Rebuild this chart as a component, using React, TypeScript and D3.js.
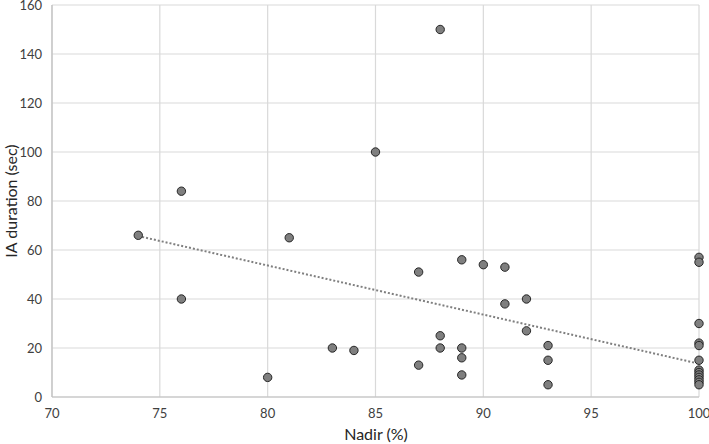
import React from "react";
import * as d3 from "d3";

const nadir = [74, 76, 76, 80, 81, 83, 84, 85, 87, 87, 88, 88, 88, 89, 89, 89, 89, 90, 91, 91, 92, 92, 93, 93, 93,
  100, 100, 100, 100, 100, 100, 100, 100, 100, 100, 100, 100, 100];
const duration = [66, 84, 40, 8, 65, 20, 19, 100, 51, 13, 150, 25, 20, 56, 20, 16, 9, 54, 53, 38, 40, 27, 21, 15, 5,
  57, 55, 30, 22, 21, 15, 11, 10, 9, 8, 7, 6, 5];
const trendX = [74, 100];
const trendY = [65.7, 13.6];
const xTicks = [70, 75, 80, 85, 90, 95, 100];
const yTicks = [0, 20, 40, 60, 80, 100, 120, 140, 160];

const W = 709, H = 444;
const left = 52, right = 699, top = 5, bottom = 397;
const FONT = "Lato, 'Open Sans', sans-serif";

export default function App() {
  const x = d3.scaleLinear().domain([70, 100]).range([left, right]);
  const y = d3.scaleLinear().domain([0, 160]).range([bottom, top]);
  const line = d3.line<number>().x((d) => x(trendX[d])).y((d) => y(trendY[d]));
  return (
    <svg width={W} height={H} style={{ position: "absolute", left: 0, top: 0 }} fontFamily={FONT}>
      <rect width={W} height={H} fill="#fff" />
      {yTicks.map((t) => (
        <line key={"gy" + t} x1={left} x2={right} y1={y(t)} y2={y(t)} stroke="#d9d9d9" strokeWidth={1.2} />
      ))}
      {xTicks.map((t) => (
        <line key={"gx" + t} x1={x(t)} x2={x(t)} y1={top} y2={bottom} stroke="#d9d9d9" strokeWidth={1.2} />
      ))}
      <line x1={left} x2={right} y1={bottom} y2={bottom} stroke="#bfbfbf" strokeWidth={1.2} />
      <line x1={left} x2={left} y1={top} y2={bottom} stroke="#bfbfbf" strokeWidth={1.2} />
      {yTicks.map((t) => (
        <text key={"ty" + t} x={42} y={y(t)} dy="0.35em" textAnchor="end" fontSize={13} fill="#404040">{t}</text>
      ))}
      {xTicks.map((t) => (
        <text key={"tx" + t} x={x(t)} y={413} dy="0.35em" textAnchor="middle" fontSize={13} fill="#404040">{t}</text>
      ))}
      <path d={line([0, 1]) || ""} fill="none" stroke="#7f7f7f" strokeWidth={2} strokeDasharray="2,2" />
      {nadir.map((n, i) => (
        <circle key={"p" + i} cx={x(n)} cy={y(duration[i])} r={4.2} fill="#7f7f7f" stroke="#262626" strokeWidth={1} />
      ))}
      <text x={376} y={434} dy="0.35em" textAnchor="middle" fontSize={16} fill="#262626">Nadir (%)</text>
      <text transform={`translate(17,${(top + bottom) / 2}) rotate(-90)`} textAnchor="middle" fontSize={16} fill="#262626">IA duration (sec)</text>
    </svg>
  );
}
